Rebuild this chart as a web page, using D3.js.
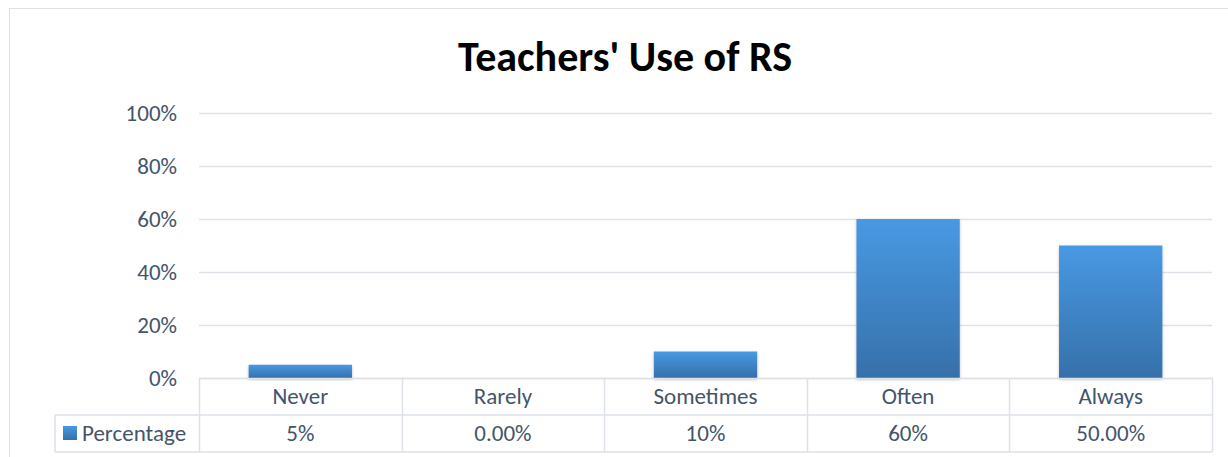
<!DOCTYPE html>
<html><head><meta charset="utf-8">
<script src="https://cdn.jsdelivr.net/npm/d3@7"></script>
<style>body{margin:0;background:#fff}svg{display:block}</style>
</head><body>
<svg id="c" width="1228" height="457"></svg>
<script>
const categories = ["Never","Rarely","Sometimes","Often","Always"];
const values = [0.05, 0.0, 0.10, 0.60, 0.50];
const tableLabels = ["5%","0.00%","10%","60%","50.00%"];
const yTicks = [0,0.2,0.4,0.6,0.8,1.0];
const seriesName = "Percentage";
const title = "Teachers' Use of RS";

const svg = d3.select("#c");
const font = "Calibri, Carlito, Lato, sans-serif";
const txt = "#44546a", grid = "#dde1e8";
const L = 199, R = 1212, T = 113, B = 378;
const row1 = 415, row2 = 452, legL = 55;
const fs = 23;

const defs = svg.append("defs");
const g = defs.append("linearGradient").attr("id","bg").attr("x1",0).attr("y1",0).attr("x2",0).attr("y2",1);
g.append("stop").attr("offset",0).attr("stop-color","#4899e3");
g.append("stop").attr("offset",1).attr("stop-color","#3670aa");
const f = defs.append("filter").attr("id","sh").attr("x",-0.1).attr("y",-0.1).attr("width",1.2).attr("height",1.3);
f.append("feDropShadow").attr("dx",0).attr("dy",1.5).attr("stdDeviation",1.5).attr("flood-color","#000").attr("flood-opacity",0.25);

// outer border
svg.append("rect").attr("x",9.5).attr("y",8.5).attr("width",1240).attr("height",470)
  .attr("fill","none").attr("stroke","#dde1e8").attr("stroke-width",1);

svg.append("text").attr("x",625).attr("y",71).attr("text-anchor","middle")
  .attr("font-family",font).attr("font-weight","bold").attr("font-size",42).attr("fill","#000").text(title);

const x = d3.scaleBand().domain(categories).range([L,R]).paddingInner(0.49).paddingOuter(0.245);
const xc = d3.scaleBand().domain(categories).range([L,R]);
const y = d3.scaleLinear().domain([0,1]).range([B,T]);

// gridlines
svg.append("g").selectAll("line").data(yTicks).join("line")
  .attr("x1",L).attr("x2",R).attr("y1",d=>Math.round(y(d))+0.5).attr("y2",d=>Math.round(y(d))+0.5)
  .attr("stroke",grid).attr("stroke-width",1.5);

// y axis labels
const yAxis = d3.axisLeft(y).tickValues(yTicks).tickFormat(d3.format(".0%")).tickSize(0).tickPadding(0);
const ya = svg.append("g").attr("transform",`translate(177,0)`).call(yAxis);
ya.select(".domain").remove();
ya.selectAll("text").attr("font-family",font).attr("font-size",fs).attr("fill",txt).attr("dy","0.33em");

// bars
svg.append("g").selectAll("rect").data(values).join("rect")
  .attr("x",(d,i)=>x(categories[i])).attr("width",x.bandwidth())
  .attr("y",d=>y(d)).attr("height",d=>B-y(d))
  .attr("fill","url(#bg)").attr("filter","url(#sh)");

// data table
const tg = svg.append("g").attr("stroke",grid).attr("stroke-width",1.5);
tg.append("line").attr("x1",L).attr("x2",R).attr("y1",B+0.5).attr("y2",B+0.5);
tg.append("line").attr("x1",legL).attr("x2",R).attr("y1",row1).attr("y2",row1);
tg.append("line").attr("x1",legL).attr("x2",R).attr("y1",row2).attr("y2",row2);
tg.append("line").attr("x1",legL).attr("x2",legL).attr("y1",row1).attr("y2",row2);
const bounds = categories.map(c=>xc(c)).concat([R]);
tg.selectAll("line.v").data(bounds).join("line").attr("class","v")
  .attr("x1",d=>Math.round(d)+0.5).attr("x2",d=>Math.round(d)+0.5).attr("y1",B).attr("y2",row2);

svg.append("g").selectAll("text").data(categories).join("text")
  .attr("x",d=>xc(d)+xc.bandwidth()/2).attr("y",404).attr("text-anchor","middle")
  .attr("font-family",font).attr("font-size",fs).attr("fill",txt).text(d=>d);
svg.append("g").selectAll("text").data(tableLabels).join("text")
  .attr("x",(d,i)=>xc(categories[i])+xc.bandwidth()/2).attr("y",441).attr("text-anchor","middle")
  .attr("font-family",font).attr("font-size",fs).attr("fill",txt).text(d=>d);

svg.append("rect").attr("x",63).attr("y",426).attr("width",14).attr("height",14).attr("fill","url(#bg)");
svg.append("text").attr("x",82).attr("y",441).attr("font-family",font).attr("font-size",fs).attr("fill",txt).text(seriesName);
</script>
</body></html>
